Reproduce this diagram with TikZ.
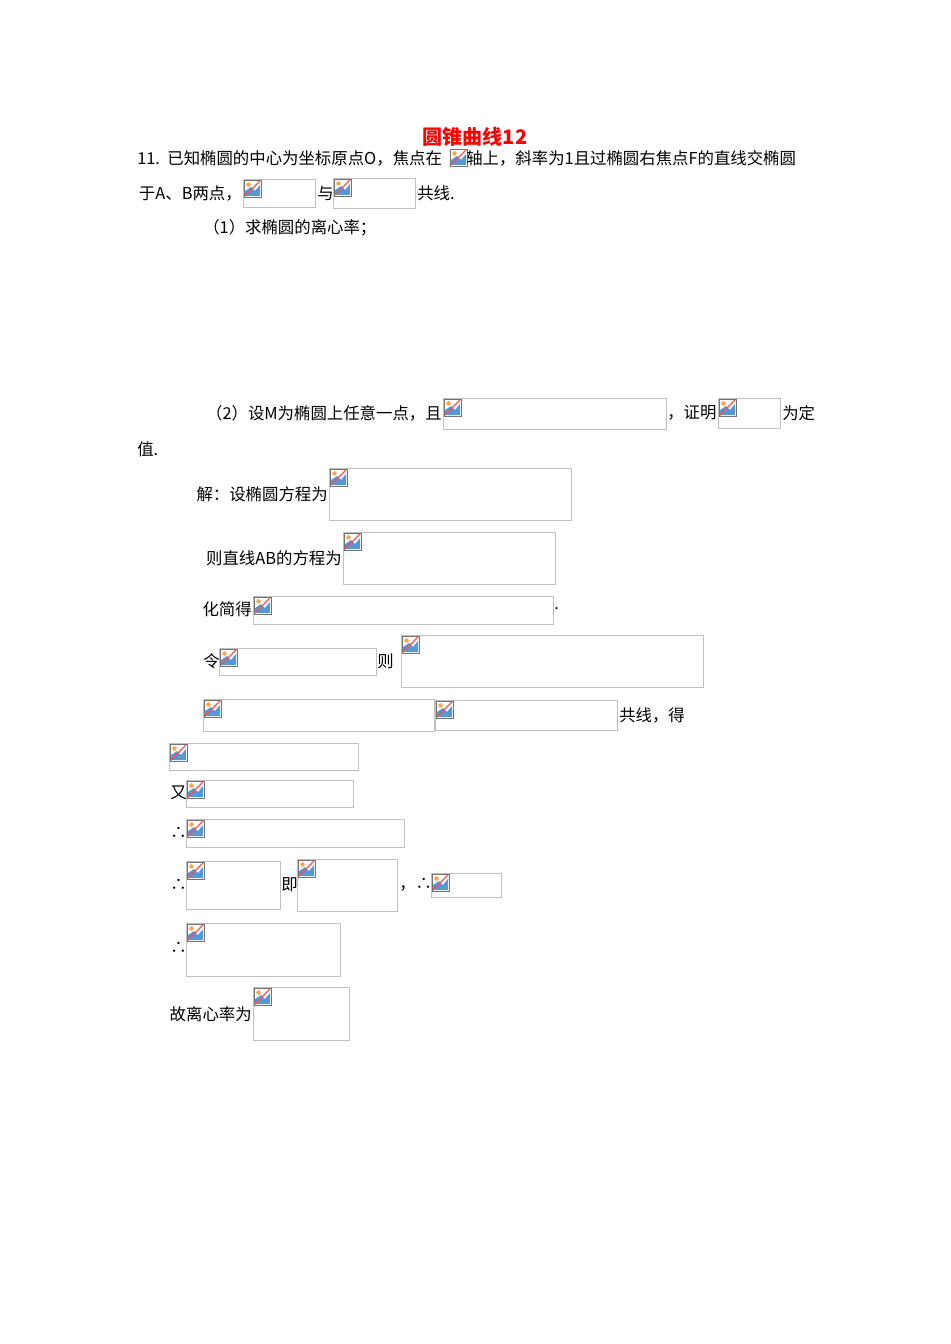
\documentclass[tikz,border=0pt]{standalone}
\usepackage{fontspec}
\setmainfont{Liberation Serif}
\newfontfamily\cjk{Noto Sans CJK SC}
\begin{document}
\begin{tikzpicture}[x=0.75pt,y=-0.75pt,
  tx/.style={anchor=west,inner sep=0pt,font=\cjk\fontsize{12.3pt}{13pt}\selectfont},
  te/.style={tx,anchor=east},
  ph/.style={draw=black!25,line width=0.6pt}]
\useasboundingbox (0,0) rectangle (950,1344);
\newcommand\ico[2]{%
  \begin{scope}[shift={(#1,#2)}]
   \fill[white] (1,1) rectangle (18,18);
   \fill[cyan!60!blue!70] (2,17) -- (2,12) -- (8,8) -- (12,12) -- (17,6) -- (17,17) -- cycle;
   \fill[orange!70] (5.5,5.5) circle (2.3);
   \draw[red!70,line width=0.9pt] (17,2) -- (2,17);
   \draw[black!55,line width=0.5pt] (1,1) rectangle (18,18);
  \end{scope}}
\newcommand\bx[4]{\draw[ph] (#1,#2) rectangle (#3,#4); \ico{#1}{#2}}
\node[anchor=center,text=red,font=\cjk\bfseries\fontsize{15pt}{16pt}\selectfont] (t) at (475,137) {圆锥曲线12};
\node[tx] (l1) at (137,158) {11.\ \ 已知椭圆的中心为坐标原点O，焦点在};
\ico{449}{148}
\node[tx] (l1b) at (466,158) {轴上，斜率为1且过椭圆右焦点F的直线交椭圆};
\node[te] (l2) at (242,193) {于A、B两点，};
\bx{243}{179}{315}{207}
\node[tx] (l2b) at (317,193) {与};
\bx{333}{178}{415}{208}
\node[tx] (l2c) at (417,193) {共线.};
\node[tx] (q1) at (203,228) {（1）求椭圆的离心率；};
\node[te] (q2) at (442,413) {（2）设M为椭圆上任意一点，且};
\bx{443}{398}{666}{429}
\node[tx] (q2b) at (667,413) {，证明};
\bx{718}{398}{780}{428}
\node[tx] (q2c) at (782,413) {为定};
\node[tx] (q2d) at (137,449) {值.};
\node[te] (s1) at (328,494) {解：设椭圆方程为};
\bx{329}{468}{571}{520}
\node[te] (s2) at (342,558) {则直线AB的方程为};
\bx{343}{532}{555}{584}
\node[te] (s3) at (252,609) {化简得};
\bx{253}{596}{553}{624}
\node[tx] (s3b) at (554,609) {.};
\node[tx] (s4) at (203,661) {令};
\bx{219}{648}{376}{675}
\node[tx] (s4b) at (377,661) {则};
\bx{401}{635}{703}{687}
\bx{203}{699}{434}{731}
\bx{435}{700}{617}{730}
\node[tx] (s5) at (619,715) {共线，得};
\bx{169}{743}{358}{770}
\node[tx] (s6) at (170,793) {又};
\bx{186}{780}{353}{807}
\node[tx] (s7) at (170,833) {∴};
\bx{186}{819}{404}{847}
\node[tx] (s8) at (170,885) {∴};
\bx{186}{861}{280}{909}
\node[tx] (s8b) at (281,885) {即};
\bx{297}{859}{397}{911}
\node[tx] (s8c) at (399,885) {，∴};
\bx{431}{873}{501}{897}
\node[tx] (s9) at (170,948) {∴};
\bx{186}{923}{340}{976}
\node[te] (s10) at (252,1014) {故离心率为};
\bx{253}{987}{349}{1040}
\end{tikzpicture}
\end{document}
